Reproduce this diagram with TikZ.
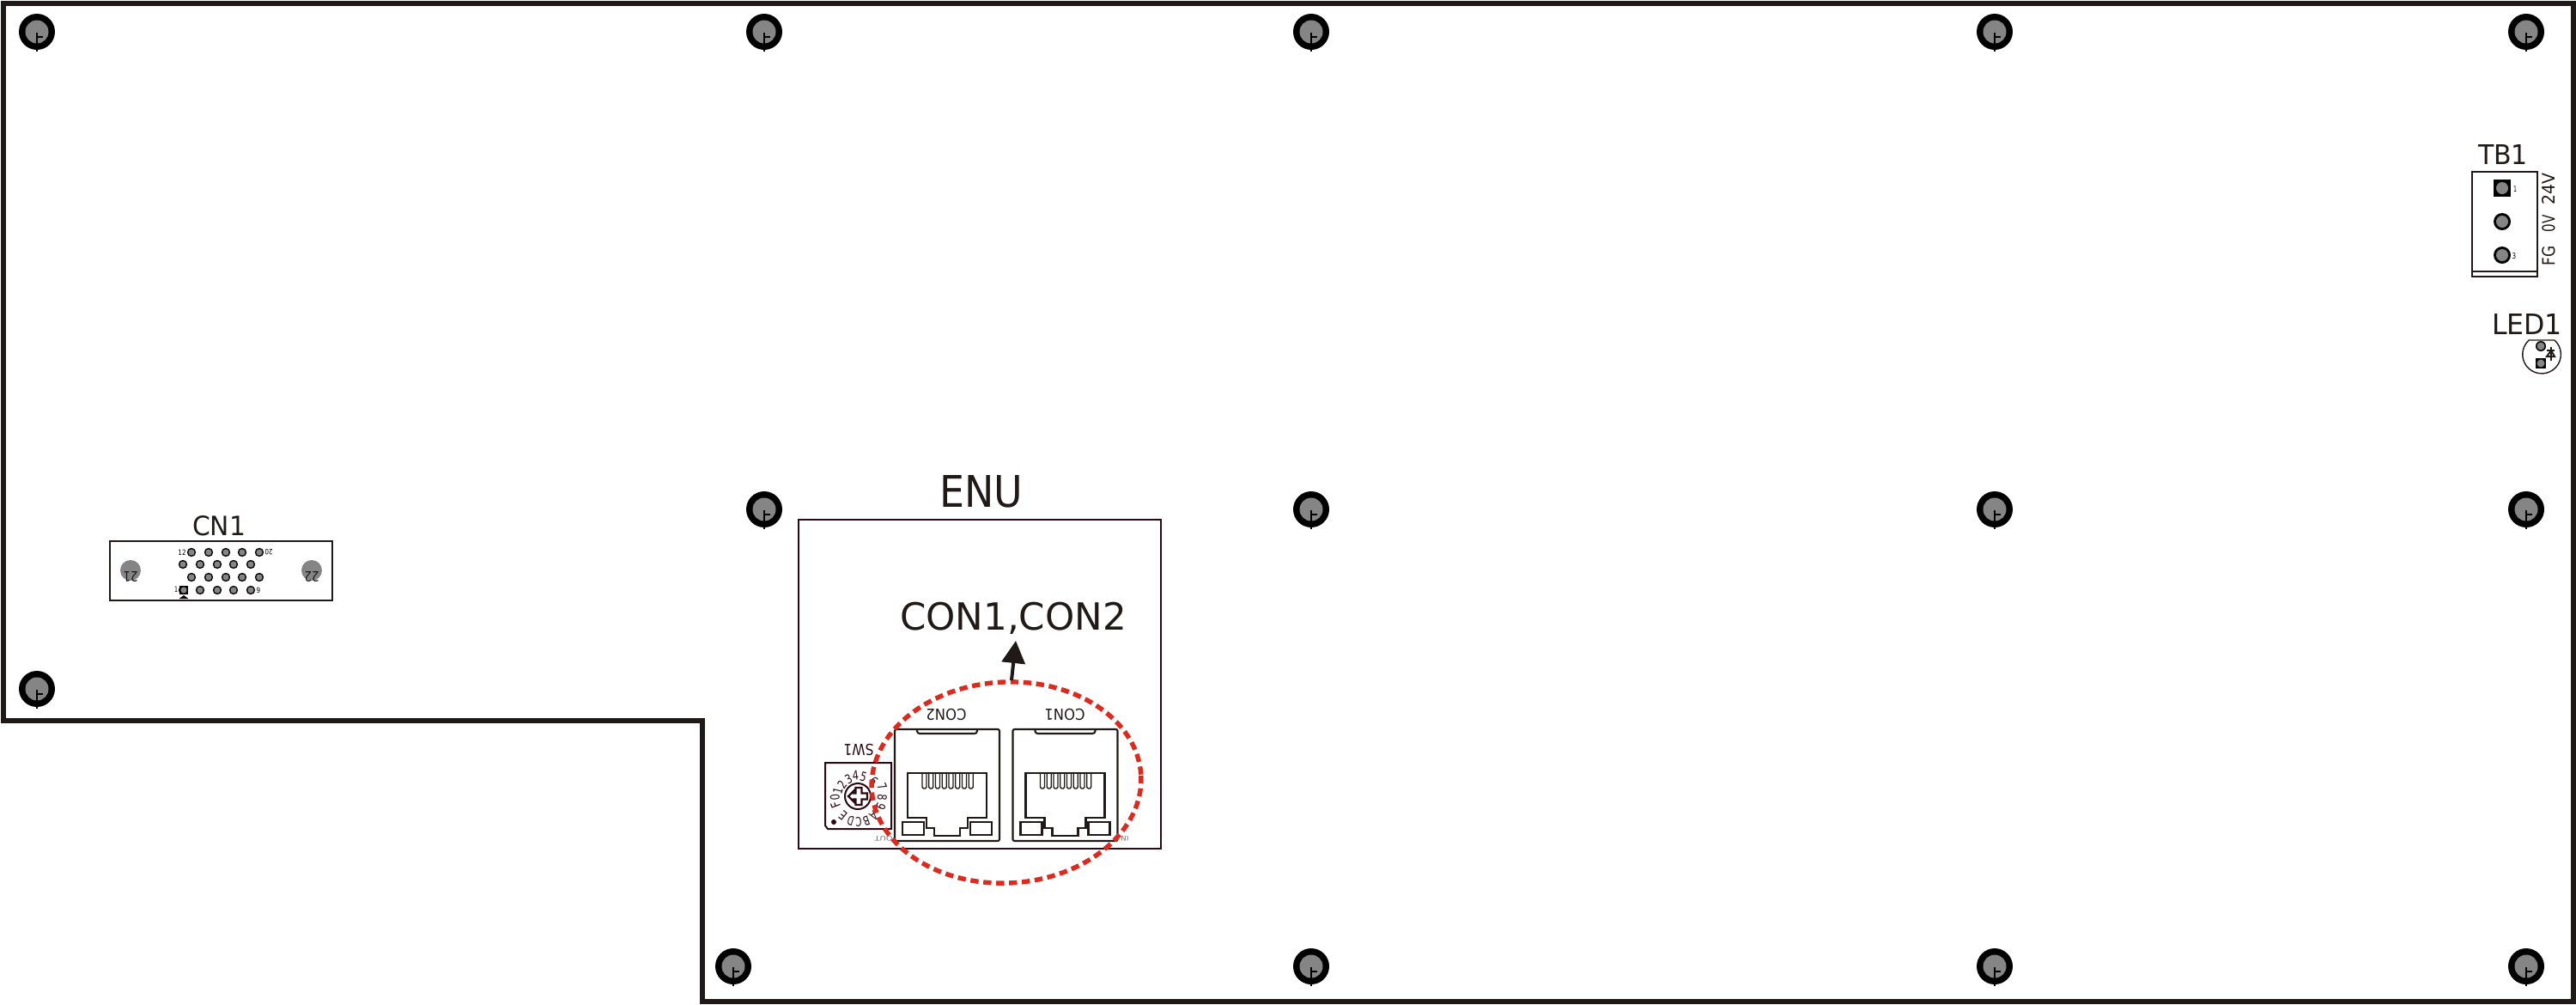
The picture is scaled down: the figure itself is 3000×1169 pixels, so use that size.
\documentclass[tikz,border=0pt]{standalone}
\usepackage{fontspec}
\usepackage{graphicx}
\setmainfont{DejaVu Sans}
\usetikzlibrary{arrows.meta}
\definecolor{ink}{HTML}{1F1A17}
\definecolor{maroon}{HTML}{2A0A14}
\definecolor{padgray}{HTML}{858585}
\definecolor{ringred}{HTML}{DD2A1F}
\newcommand{\fitto}[3]{\resizebox{#1pt}{#2pt}{#3}}
\tikzset{
  lbl/.style={inner sep=0pt,outer sep=0pt,text=ink},
  outline/.style={draw=ink,line width=2.75pt,line join=miter},
  module/.style={draw=maroon,line width=1.35pt},
  thin part/.style={draw=ink,line width=.7pt},
  thick part/.style={draw=ink,line width=1.05pt},
}
\newcommand{\hole}[2]{%
  \fill[black] (#1,#2) circle (21);
  \fill[padgray] (#1,#2) circle (13.5);
  \draw[black,line width=1.3pt] (#1,#2+1) -- (#1,#2+23);
  \draw[black,line width=.8pt] (#1,#2+6) -- (#1+7,#2+6);
}
\newcommand{\pin}[2]{%
  \fill[black] (#1,#2) circle (5.2);
  \fill[padgray] (#1,#2) circle (3.6);
}
\newcommand{\jack}[1]{%
  \begin{scope}[shift={(#1,0)}]
    \draw[thick part,rounded corners=1pt] (1042,849) rectangle (1164,979);
    \draw[thick part,rounded corners=1.5pt] (1068,849) -- (1068,854) -- (1138,854) -- (1138,849);
    \draw[thick part] (1057,900) -- (1149,900) -- (1149,952) -- (1127,952) -- (1127,964) -- (1118,964)
      -- (1118,973) -- (1088,973) -- (1088,964) -- (1079,964) -- (1079,952) -- (1057,952) -- cycle;
    \draw[thick part] (1051,957) rectangle (1076,972);
    \draw[thick part] (1130,957) rectangle (1155,972);
    \foreach \i in {0,...,7}{
      \draw[thin part,rounded corners=.8pt] ({1074+\i*7.75},900) -- ({1074+\i*7.75},918) -- ({1079+\i*7.75},918) -- ({1079+\i*7.75},900);
    }
  \end{scope}
}
\begin{document}
\begin{tikzpicture}[x=.5pt,y=-.5pt]
\useasboundingbox (0,0) rectangle (3000,1169);
\fill[white] (0,0) rectangle (3000,1169);

% board outline
\draw[outline] (4,4) -- (2997,4) -- (2997,1166) -- (818,1166) -- (818,839) -- (4,839) -- cycle;

% mounting holes
\foreach \x in {43,890,1527,2323,2942}{\hole{\x}{37}}
\foreach \x in {890,1527,2323,2942}{\hole{\x}{593}}
\foreach \x in {854,1527,2323,2942}{\hole{\x}{1125}}
\hole{43}{802}

% CN1
\draw[draw=ink,line width=1.3pt] (128,630) rectangle (387,699);
\node[lbl] (cnlabel) at (255,612) {\fitto{31}{11.5}{CN1}};
\fill[padgray] (152,664) circle (12);
\fill[padgray] (363,664) circle (12);
\node[lbl,rotate=180] (cnb) at (152,671) {\fitto{8.5}{6}{21}};
\node[lbl,rotate=180] (cnc) at (363,671) {\fitto{8.5}{6}{22}};
\foreach \x in {223,243,263,282,302}{\pin{\x}{643}\pin{\x}{672}}
\foreach \x in {213,233,253,272,292}{\pin{\x}{657}\pin{\x}{687}}
\fill[black] (209,682) rectangle (219,692);
\fill[padgray] (214,687) circle (3.6);
\fill[black] (214,693) -- (219.5,697) -- (208.5,697) -- cycle;
\node[lbl,text=black] (cnd) at (212,643) {\fitto{4.6}{3.2}{12}};
\node[lbl,rotate=180,text=black] (cne) at (313,643) {\fitto{4.6}{3.2}{20}};
\node[lbl,text=black] (cnf) at (205,686) {\fitto{2}{3.2}{1}};
\node[lbl,text=black] (cng) at (301,687) {\fitto{2.3}{3.2}{9}};

% ENU module
\draw[module] (930,605) rectangle (1352,988);
\node[lbl] (enu) at (1143,572) {\fitto{48.5}{18.5}{ENU}};
\node[lbl,anchor=base west] (cons) at (1048,733) {\resizebox{132pt}{!}{CON1,CON2}};

% SW1
\draw[module,line width=1pt] (961,888) -- (1038,888) -- (1038,965) -- (964,965) -- (961,961) -- cycle;
\node[lbl,rotate=180,text=maroon] (swl) at (1000,873) {\fitto{17.5}{6.6}{SW1}};
\fill[maroon] (971,957) circle (3);
\draw[maroon,line width=1pt] (999,927) circle (15);
\begin{scope}[shift={(1000,927)}]
\draw[maroon,line width=1.15pt,line join=miter] (-12,0) -- (-6,-6) -- (-6,-3.5) -- (-3.5,-3.5) -- (-3.5,-10) -- (3.5,-10) -- (3.5,-3.5) -- (10,-3.5)
  -- (10,3.5) -- (3.5,3.5) -- (3.5,10) -- (-3.5,10) -- (-3.5,3.5) -- (-6,3.5) -- (-6,6) -- cycle;
\end{scope}
\foreach \t/\dx/\dy [count=\i] in {0/-80/5,1/-70/-18,2/-55/-40,3/-32/-60,4/-8/-72,5/20/-68,6/55/-52,7/85/-35,8/85/5,9/80/35,A/55/70,B/30/85,C/3/90,D/-25/85,E/-52/66,F/-78/30}{
  \pgfmathsetmacro{\ang}{atan2(-\dy,\dx)}
  \node[lbl,rotate=\ang-90,text=maroon] (rot\i) at ({999+\dx/3},{927+\dy/3}) {\fitto{3.6}{5.4}{\t}};
}

% jacks
\jack{0}
\jack{137.5}
\node[lbl,rotate=180] (con2) at (1102,832) {\fitto{23.5}{6.6}{CON2}};
\node[lbl,rotate=180] (con1) at (1240,832) {\fitto{23.5}{6.6}{CON1}};
\node[lbl,rotate=180,text=black!55] (out) at (1029,976) {\fitto{10.5}{2.8}{OUT}};
\node[lbl,rotate=180,text=black!55] (in) at (1310,976) {\fitto{4.5}{2.8}{IN}};

% call-out ellipse and arrow
\draw[ringred,line width=2.7pt,dash pattern=on 4.7pt off 2.8pt,rotate around={3:(1172,911)}] (1172,911) ellipse [x radius=157,y radius=117];
\coordinate (ringtop) at (1178,792);
\coordinate (tip) at (1183,746);
\draw[ink,line width=2pt,-{Triangle[length=13pt,width=13.5pt]}] (ringtop) -- (tip);

% TB1
\draw[draw=ink,line width=1.2pt] (2879,200) rectangle (2955,322);
\draw[draw=ink,line width=1.2pt] (2879,316) -- (2955,316);
\node[lbl] (tb) at (2915,180) {\fitto{29}{11.5}{TB1}};
\fill[black] (2904,209) rectangle (2924,229);
\fill[padgray] (2914,219) circle (7);
\fill[black] (2914,258) circle (10);
\fill[padgray] (2914,258) circle (7);
\fill[black] (2914,297) circle (10);
\fill[padgray] (2914,297) circle (7);
\node[lbl,text=black] (tba) at (2929,220) {\fitto{2}{3.4}{1}};
\node[lbl,text=black] (tbb) at (2928,298) {\fitto{2.3}{3.4}{3}};
\node[lbl,rotate=90] (v24) at (2968,220) {\fitto{18.5}{7.5}{24V}};
\node[lbl,rotate=90] (v0) at (2968,260) {\fitto{10}{7.5}{0V}};
\node[lbl,rotate=90] (fg) at (2968,298) {\fitto{11.5}{7.5}{FG}};

% LED1
\node[lbl] (led) at (2943,377) {\fitto{41}{12}{LED1}};
\draw[draw=ink,line width=.7pt] (2975,396) arc[start angle=-48,end angle=228,radius=22.3] -- cycle;
\fill[black] (2959,403) circle (6);
\fill[padgray] (2959,403) circle (4.5);
\fill[black] (2953,417) rectangle (2965,429);
\fill[padgray] (2959,423) circle (4.5);
\draw[draw=ink,line width=1pt] (2971,404) -- (2971,420);
\draw[draw=ink,line width=1pt] (2966,408) -- (2975,408);
\draw[draw=ink,line width=1pt] (2966,415) -- (2975,415) -- (2971,408) -- cycle;
\end{tikzpicture}
\end{document}
